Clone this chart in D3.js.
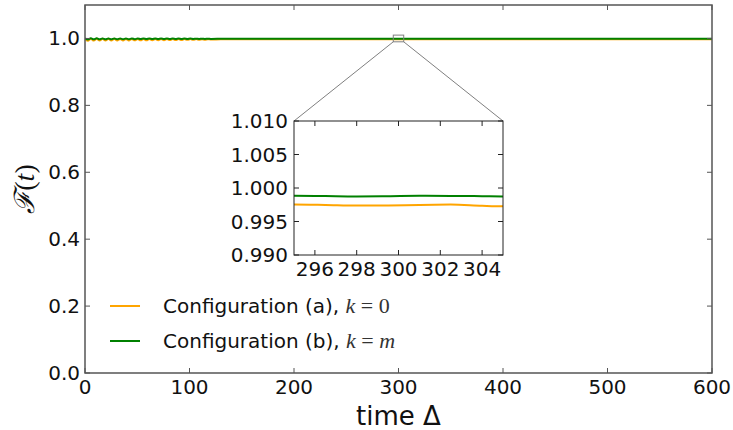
<!DOCTYPE html>
<html>
<head>
<meta charset="utf-8">
<script src="https://cdn.jsdelivr.net/npm/d3@7"></script>
<style>
  html, body { margin: 0; padding: 0; background: #fff; }
  svg { display: block; }
  text { font-family: "DejaVu Sans", sans-serif; fill: #111; }
</style>
</head>
<body>
<svg id="chart" width="733" height="430"></svg>
<script>
// Fidelity F(t) of the two configurations over time
const times = [0, 2.8, 5.6, 8.4, 11.2, 14, 16.8, 19.6, 22.4, 25.2, 28, 30.8, 33.6, 36.4, 39.2, 42,
  44.8, 47.6, 50.4, 53.2, 56, 58.8, 61.6, 64.4, 67.2, 70, 72.8, 75.6, 78.4, 81.2, 84, 86.8,
  89.6, 92.4, 95.2, 98, 100.8, 103.6, 106.4, 109.2, 112, 114.8, 117.6, 120.4,
  130, 150, 180, 210, 240, 270, 290, 295, 296.5, 298, 299.5, 301, 302.5, 304, 305,
  310, 330, 360, 400, 450, 500, 550, 600];

const fidelityA = [0.9990, 0.9935, 0.9990, 0.9936, 0.9989, 0.9937, 0.9989, 0.9938, 0.9988, 0.9939,
  0.9988, 0.9940, 0.9987, 0.9941, 0.9987, 0.9942, 0.9986, 0.9943, 0.9986, 0.9944, 0.9985, 0.9945,
  0.9985, 0.9947, 0.9984, 0.9948, 0.9984, 0.9950, 0.9983, 0.9952, 0.9983, 0.9954, 0.9982, 0.9956,
  0.9982, 0.9958, 0.9981, 0.9960, 0.9980, 0.9962, 0.9979, 0.9964, 0.9978, 0.9966,
  0.9974, 0.9976, 0.9975, 0.9974, 0.9976, 0.9975, 0.9974, 0.99755, 0.99748, 0.99738, 0.99740,
  0.99748, 0.99752, 0.99735, 0.99728,
  0.9974, 0.9975, 0.9974, 0.9975, 0.9974, 0.9975, 0.9974, 0.9974];

const fidelityB = [1.0000, 0.9972, 1.0003, 0.9973, 1.0003, 0.9974, 1.0002, 0.9975, 1.0002, 0.9976,
  1.0001, 0.9976, 1.0001, 0.9977, 1.0000, 0.9978, 1.0000, 0.9979, 0.9999, 0.9980, 0.9999, 0.9980,
  0.9998, 0.9981, 0.9998, 0.9982, 0.9997, 0.9982, 0.9997, 0.9983, 0.9996, 0.9984, 0.9996, 0.9984,
  0.9995, 0.9985, 0.9995, 0.9985, 0.9994, 0.9986, 0.9993, 0.9986, 0.9992, 0.9987,
  0.9988, 0.9989, 0.9988, 0.9988, 0.9989, 0.9988, 0.9988, 0.99885, 0.99880, 0.99875, 0.99878,
  0.99883, 0.99882, 0.99878, 0.99875,
  0.9988, 0.9988, 0.9989, 0.9988, 0.9988, 0.9988, 0.9988, 0.9988];

const xTicks = [0, 100, 200, 300, 400, 500, 600];
const yTicks = [0.0, 0.2, 0.4, 0.6, 0.8, 1.0];
const insetXTicks = [296, 298, 300, 302, 304];
const insetYTicks = [0.990, 0.995, 1.000, 1.005, 1.010];
const insetXDomain = [295, 305];
const insetYDomain = [0.990, 1.010];

const seriesInfo = [
  { name: "Configuration (a), ", math: ["k", " = 0"], values: fidelityA, color: "#ffa500" },
  { name: "Configuration (b), ", math: ["k", " = ", "m"], values: fidelityB, color: "#008000" }
];

const svg = d3.select("#chart");
const plot = { left: 85, right: 712, top: 5, bottom: 373 };

const x = d3.scaleLinear().domain([0, 600]).range([plot.left, plot.right]);
const y = d3.scaleLinear().domain([0, 1.1]).range([plot.bottom, plot.top]);

svg.append("defs").append("clipPath").attr("id", "mainClip")
  .append("rect").attr("x", plot.left).attr("y", plot.top)
  .attr("width", plot.right - plot.left).attr("height", plot.bottom - plot.top);

// main series
const mainLine = (vals) => d3.line()
  .x((d, i) => x(times[i])).y(d => y(d))
  .curve(d3.curveMonotoneX)(vals);

const mainG = svg.append("g").attr("clip-path", "url(#mainClip)");
seriesInfo.forEach(s => {
  mainG.append("path").attr("d", mainLine(s.values))
    .attr("fill", "none").attr("stroke", s.color).attr("stroke-width", 2);
});

// zoom region marker
const zx0 = x(insetXDomain[0]), zx1 = x(insetXDomain[1]);
const zy0 = y(insetYDomain[0]), zy1 = y(insetYDomain[1]);
svg.append("rect").attr("x", zx0).attr("y", zy1)
  .attr("width", zx1 - zx0).attr("height", zy0 - zy1)
  .attr("fill", "none").attr("stroke", "#808080").attr("stroke-width", 1);

// axes (ticks point inward, on all four sides)
const tickLen = 5;
function frameAxes(g, xs, ys, xt, yt, fmtX, fmtY, box, stroke, sw, lblOffX, lblOffY) {
  xt.forEach(t => {
    g.append("line").attr("x1", xs(t)).attr("x2", xs(t)).attr("y1", box.bottom).attr("y2", box.bottom - tickLen)
      .attr("stroke", stroke).attr("stroke-width", 1);
    g.append("line").attr("x1", xs(t)).attr("x2", xs(t)).attr("y1", box.top).attr("y2", box.top + tickLen)
      .attr("stroke", stroke).attr("stroke-width", 1);
    g.append("text").attr("x", xs(t)).attr("y", box.bottom + lblOffY)
      .attr("text-anchor", "middle").attr("font-size", 20).text(fmtX(t));
  });
  yt.forEach(t => {
    g.append("line").attr("x1", box.left).attr("x2", box.left + tickLen).attr("y1", ys(t)).attr("y2", ys(t))
      .attr("stroke", stroke).attr("stroke-width", 1);
    g.append("line").attr("x1", box.right).attr("x2", box.right - tickLen).attr("y1", ys(t)).attr("y2", ys(t))
      .attr("stroke", stroke).attr("stroke-width", 1);
    g.append("text").attr("x", box.left - lblOffX).attr("y", ys(t))
      .attr("text-anchor", "end").attr("dominant-baseline", "central").attr("font-size", 20).text(fmtY(t));
  });
  g.append("rect").attr("x", box.left).attr("y", box.top)
    .attr("width", box.right - box.left).attr("height", box.bottom - box.top)
    .attr("fill", "none").attr("stroke", stroke).attr("stroke-width", sw);
}

frameAxes(svg.append("g"), x, y, xTicks, yTicks, d3.format("d"), d3.format(".1f"),
  plot, "#555", 1.5, 5, 21);

// axis titles
svg.append("text").attr("x", (plot.left + plot.right) / 2).attr("y", 425)
  .attr("text-anchor", "middle").attr("font-size", 26).text("time Δ");

const ylab = svg.append("text").attr("transform", "translate(34,189) rotate(-90)")
  .attr("text-anchor", "middle").attr("font-size", 28)
  .style("font-family", "'Liberation Serif', serif");
ylab.append("tspan").style("font-style", "italic").text("ℱ");
ylab.append("tspan").text("(");
ylab.append("tspan").style("font-style", "italic").text("t");
ylab.append("tspan").text(")");

// legend
seriesInfo.forEach((s, i) => {
  const ly = 306 + i * 35;
  svg.append("line").attr("x1", 110).attr("x2", 140).attr("y1", ly).attr("y2", ly)
    .attr("stroke", s.color).attr("stroke-width", 2);
  const t = svg.append("text").attr("x", 163).attr("y", ly + 7).attr("font-size", 20);
  t.append("tspan").text(s.name);
  s.math.forEach((m, j) => {
    t.append("tspan")
      .style("font-family", "'Liberation Serif', serif")
      .style("font-style", (m === "k" || m === "m") ? "italic" : "normal")
      .attr("font-size", 22).attr("fill", "#333").text(m);
  });
});

// inset
const inset = { left: 294, right: 503, top: 121, bottom: 255 };
const ix = d3.scaleLinear().domain(insetXDomain).range([inset.left, inset.right]);
const iy = d3.scaleLinear().domain(insetYDomain).range([inset.bottom, inset.top]);

// connectors from the marked region to the inset corners
svg.append("line").attr("x1", zx0).attr("y1", zy0).attr("x2", inset.left).attr("y2", inset.top)
  .attr("stroke", "#808080").attr("stroke-width", 1);
svg.append("line").attr("x1", zx1).attr("y1", zy0).attr("x2", inset.right).attr("y2", inset.top)
  .attr("stroke", "#808080").attr("stroke-width", 1);

const insetG = svg.append("g");
insetG.append("rect").attr("x", inset.left).attr("y", inset.top)
  .attr("width", inset.right - inset.left).attr("height", inset.bottom - inset.top)
  .attr("fill", "#fff");

svg.select("defs").append("clipPath").attr("id", "insetClip")
  .append("rect").attr("x", inset.left).attr("y", inset.top)
  .attr("width", inset.right - inset.left).attr("height", inset.bottom - inset.top);

const insetLine = (vals) => d3.line()
  .defined((d, i) => times[i] >= 290 && times[i] <= 310)
  .x((d, i) => ix(times[i])).y(d => iy(d))
  .curve(d3.curveMonotoneX)(vals);

const insetLines = insetG.append("g").attr("clip-path", "url(#insetClip)");
seriesInfo.forEach(s => {
  insetLines.append("path").attr("d", insetLine(s.values))
    .attr("fill", "none").attr("stroke", s.color).attr("stroke-width", 2);
});

frameAxes(insetG, ix, iy, insetXTicks, insetYTicks, d3.format("d"), d3.format(".3f"),
  inset, "#222", 1, 6, 21);
</script>
</body>
</html>
